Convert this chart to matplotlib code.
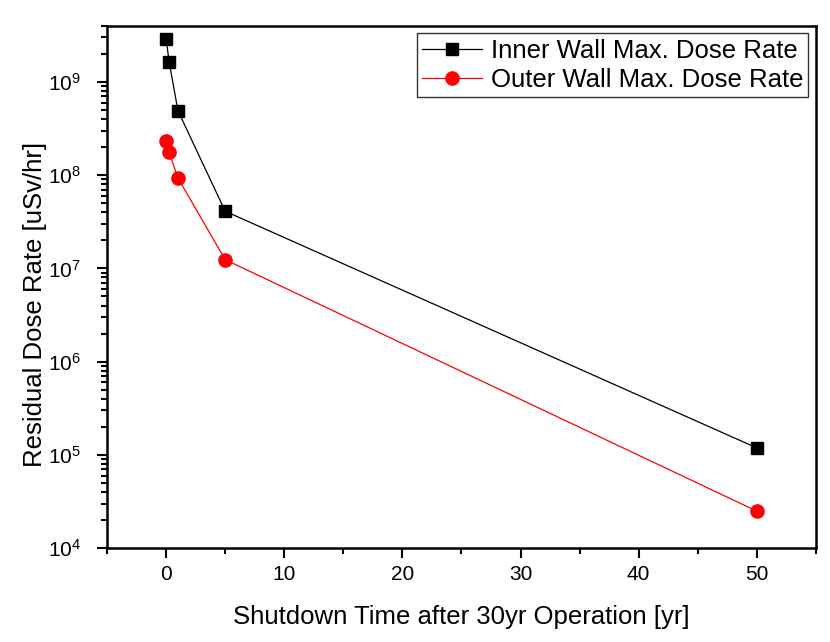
import matplotlib.pyplot as plt
import numpy as np
from matplotlib.ticker import LogLocator, MultipleLocator

plt.rcParams['font.family'] = ['Liberation Sans', 'DejaVu Sans']
plt.rcParams['mathtext.fontset'] = 'custom'
plt.rcParams['mathtext.rm'] = 'Liberation Sans'
plt.rcParams['mathtext.it'] = 'Liberation Sans'

# shutdown time [yr]
t = [0, 0.25, 1, 5, 50]
# max dose rate [uSv/hr]
inner = [2.9e9, 1.65e9, 4.9e8, 4.1e7, 1.19e5]
outer = [2.35e8, 1.77e8, 9.3e7, 1.24e7, 2.5e4]

fig = plt.figure(figsize=(8.3, 6.42), dpi=100)
ax = fig.add_axes([0.129, 0.146, 0.854, 0.814])

ax.plot(t, inner, color='black', lw=0.9, marker='s', ms=8, label='Inner Wall Max. Dose Rate')
ax.plot(t, outer, color='red', lw=0.9, marker='o', ms=9.5, label='Outer Wall Max. Dose Rate')

ax.set_yscale('log')
ax.set_xlim(-5, 55)
ax.set_ylim(1e4, 4e9)
ax.xaxis.set_major_locator(MultipleLocator(10))
ax.xaxis.set_minor_locator(MultipleLocator(5))
ax.yaxis.set_major_locator(LogLocator(base=10))
ax.yaxis.set_minor_locator(LogLocator(base=10, subs=np.arange(2, 10)))

for s in ['left', 'bottom', 'top', 'right']:
    ax.spines[s].set_linewidth(1.8)
ax.tick_params(which='both', top=False, right=False, direction='out', labelsize=15, width=1.5)
ax.tick_params(which='major', length=7)
ax.tick_params(which='minor', length=4.5)
ax.tick_params(axis='x', pad=5)
ax.tick_params(axis='y', pad=12)

ax.set_xlabel('Shutdown Time after 30yr Operation [yr]', fontsize=18.5, labelpad=15)
ax.set_ylabel('Residual Dose Rate [uSv/hr]', fontsize=18.5)
ax.yaxis.set_label_coords(-0.085, 0.467)

leg = ax.legend(loc='upper right', fontsize=18.5, frameon=True, fancybox=False,
                edgecolor='black', handlelength=2.3, borderpad=0.2,
                labelspacing=0.2, handletextpad=0.35, borderaxespad=0.3)
leg.get_frame().set_linewidth(1.0)

fig.savefig('out.png', dpi=100)
